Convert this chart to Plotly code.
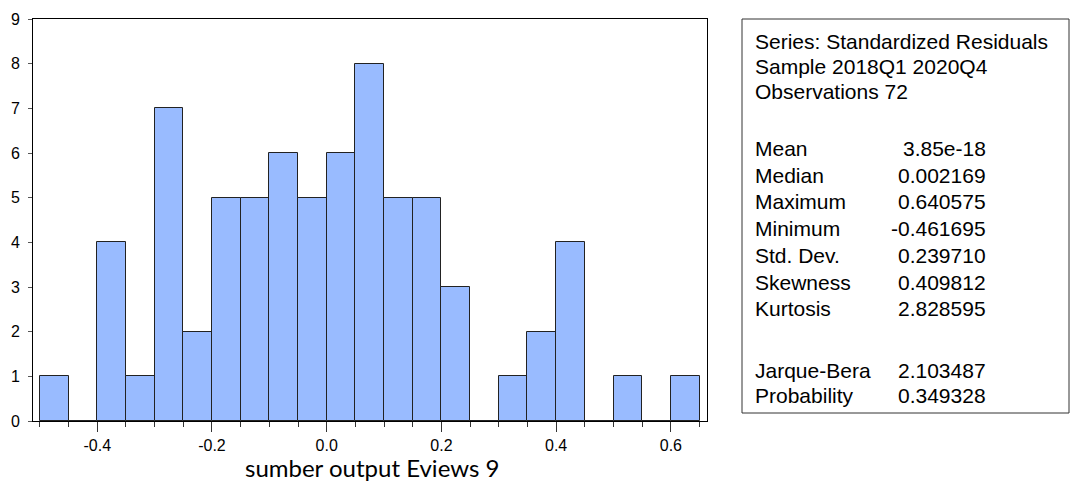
import plotly.graph_objects as go

# Histogram data (bin width 0.05)
bin_left = [-0.50, -0.45, -0.40, -0.35, -0.30, -0.25, -0.20, -0.15, -0.10, -0.05,
            0.00, 0.05, 0.10, 0.15, 0.20, 0.25, 0.30, 0.35, 0.40, 0.45, 0.50, 0.55, 0.60]
counts = [1, 0, 4, 1, 7, 2, 5, 5, 6, 5, 6, 8, 5, 5, 3, 0, 1, 2, 4, 0, 1, 0, 1]
bin_width = 0.05

x_tickvals = [-0.4, -0.2, 0.0, 0.2, 0.4, 0.6]
x_ticktext = ["-0.4", "-0.2", "0.0", "0.2", "0.4", "0.6"]
x_title = "sumber output Eviews 9"

header_lines = ["Series: Standardized Residuals", "Sample 2018Q1 2020Q4", "Observations 72"]
stat_labels = ["Mean", "Median", "Maximum", "Minimum", "Std. Dev.", "Skewness", "Kurtosis",
               "Jarque-Bera", "Probability"]
stat_values = ["3.85e-18", "0.002169", "0.640575", "-0.461695", "0.239710", "0.409812",
               "2.828595", "2.103487", "0.349328"]

W, H = 1073, 487
L, R, T, B = 33, 707, 18.5, 421

def px(x):
    return (x - L) / (R - L)

def py(y):
    return (B - y) / (B - T)

centers = [b + bin_width / 2 for b in bin_left]

fig = go.Figure(go.Bar(
    x=centers, y=counts, width=bin_width,
    marker=dict(color="rgb(153,187,255)", line=dict(color="#222222", width=1)),
    hoverinfo="skip",
))

font_main = "Liberation Sans, Arial, sans-serif"

fig.update_layout(
    width=W, height=H,
    margin=dict(l=L, r=W - R, t=T, b=H - B, pad=0),
    paper_bgcolor="white", plot_bgcolor="white",
    showlegend=False,
    bargap=0,
    font=dict(family=font_main, color="black"),
)

fig.update_xaxes(
    range=[-0.512, 0.663],
    tickvals=x_tickvals, ticktext=x_ticktext,
    ticks="outside", ticklen=10, tickcolor="#333", tickwidth=1,
    minor=dict(dtick=0.05, tick0=0, ticks="outside", ticklen=5, tickcolor="#333"),
    showgrid=False, zeroline=False,
    showline=True, linecolor="black", linewidth=1, mirror=True,
    tickfont=dict(size=16, family=font_main),
)
fig.update_yaxes(
    range=[0, 9], dtick=1,
    ticks="outside", ticklen=4, tickcolor="#555",
    ticklabelstandoff=5,
    showgrid=False, zeroline=False,
    showline=True, linecolor="black", linewidth=1, mirror=True,
    tickfont=dict(size=16, family=font_main),
)

# X axis title (as annotation for precise placement)
fig.add_annotation(xref="paper", yref="paper", x=px(372), y=py(468),
                   text=x_title, showarrow=False, xanchor="center", yanchor="middle",
                   borderpad=0,
                   font=dict(size=24, family="Lato, Open Sans, sans-serif"))

# Stats box
fig.add_shape(type="rect", xref="paper", yref="paper",
              x0=px(742), x1=px(1069), y0=py(413), y1=py(18.5),
              line=dict(color="#333", width=1), fillcolor="rgba(0,0,0,0)")

header_y = [41, 66, 91]
stat_y = [148, 175, 201, 228, 255, 282, 308, 370, 395]
fs = 21
for txt, yy in zip(header_lines, header_y):
    fig.add_annotation(xref="paper", yref="paper", x=px(753), y=py(yy),
                       text=txt, showarrow=False, xanchor="left", yanchor="middle",
                       font=dict(size=fs, family=font_main))
for lab, val, yy in zip(stat_labels, stat_values, stat_y):
    fig.add_annotation(xref="paper", yref="paper", x=px(753), y=py(yy),
                       text=lab, showarrow=False, xanchor="left", yanchor="middle",
                       font=dict(size=fs, family=font_main))
    fig.add_annotation(xref="paper", yref="paper", x=px(988), y=py(yy),
                       text=val, showarrow=False, xanchor="right", yanchor="middle",
                       font=dict(size=fs, family=font_main))

fig.write_html("out.html",
               config={"displayModeBar": False},
               post_script="document.body.style.margin='0';document.body.style.overflow='hidden';")
